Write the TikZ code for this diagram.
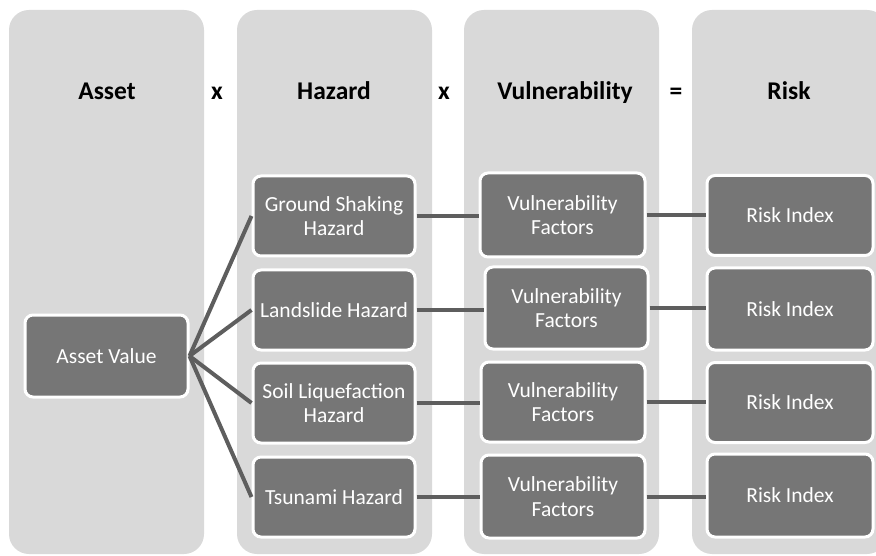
\documentclass[tikz,border=0pt]{standalone}
\usepackage{fontspec}
\setmainfont{Carlito}
\usepackage{xcolor}
\definecolor{panel}{HTML}{D9D9D9}
\definecolor{boxgray}{HTML}{767676}
\definecolor{linkgray}{HTML}{5E5E5E}
\usepackage{tikz}
\usetikzlibrary{positioning}

\tikzset{
  column/.style={fill=panel, rounded corners=20pt, minimum width=195pt, minimum height=544pt, inner sep=0pt},
  header/.style={font=\fontsize{25.5}{30}\selectfont\bfseries, text=black, anchor=base},
  item/.style={draw=white, line width=3pt, fill=boxgray, rounded corners=8pt, text=white,
    align=center, minimum height=80pt, inner sep=2pt, font=\fontsize{21.5}{24.5}\selectfont},
  link/.style={draw=linkgray, line width=4pt}
}

\begin{document}
\begin{tikzpicture}[x=1pt, y=-1pt]
  \clip (0,0) rectangle (876,556);

  % Panels
  \node[column] (colasset) at (106.5, 282) {};
  \node[column] (colhazard) at (334.5, 282) {};
  \node[column] (colvuln) at (561.5, 282) {};
  \node[column] (colrisk) at (789.5, 282) {};

  % Headers and operators
  \node[header] (hasset) at (107, 100) {Asset};
  \node[header] (op1) at (217, 100) {x};
  \node[header] (hhazard) at (334, 100) {Hazard};
  \node[header] (op2) at (444, 100) {x};
  \node[header] (hvuln) at (565, 100) {Vulnerability};
  \node[header] (op3) at (676, 100) {=};
  \node[header] (hrisk) at (789, 100) {Risk};

  % Asset
  \node[item, minimum width=163pt, minimum height=82pt] (asset) at (106.5, 356) {Asset Value};

  % Hazards
  \node[item, minimum width=162pt] (haz1) at (334, 216) {Ground Shaking\\Hazard};
  \node[item, minimum width=162pt] (haz2) at (334, 310) {Landslide Hazard};
  \node[item, minimum width=162pt] (haz3) at (334, 403) {Soil Liquefaction\\Hazard};
  \node[item, minimum width=162pt] (haz4) at (334, 497) {Tsunami Hazard};

  % Vulnerability
  \node[item, minimum width=165pt, minimum height=84pt] (vul1) at (562.5, 215) {Vulnerability\\Factors};
  \node[item, minimum width=163pt, minimum height=82pt] (vul2) at (566.5, 308) {Vulnerability\\Factors};
  \node[item, minimum width=164pt] (vul3) at (563, 402) {Vulnerability\\Factors};
  \node[item, minimum width=164pt, minimum height=83pt] (vul4) at (563, 496.5) {Vulnerability\\Factors};

  % Risk
  \node[item, minimum width=166pt] (risk1) at (790, 215.5) {Risk Index};
  \node[item, minimum width=166pt, minimum height=82pt] (risk2) at (790, 309) {Risk Index};
  \node[item, minimum width=166pt] (risk3) at (790, 402.5) {Risk Index};
  \node[item, minimum width=166pt, minimum height=83pt] (risk4) at (790, 495.5) {Risk Index};

  % Links
  \foreach \i in {1,...,4} {
    \draw[link] (asset.east) -- (haz\i.west);
    \draw[link] (haz\i.east) -- (haz\i.east -| vul\i.west);
    \draw[link] (vul\i.east) -- (vul\i.east -| risk\i.west);
  }
\end{tikzpicture}
\end{document}
